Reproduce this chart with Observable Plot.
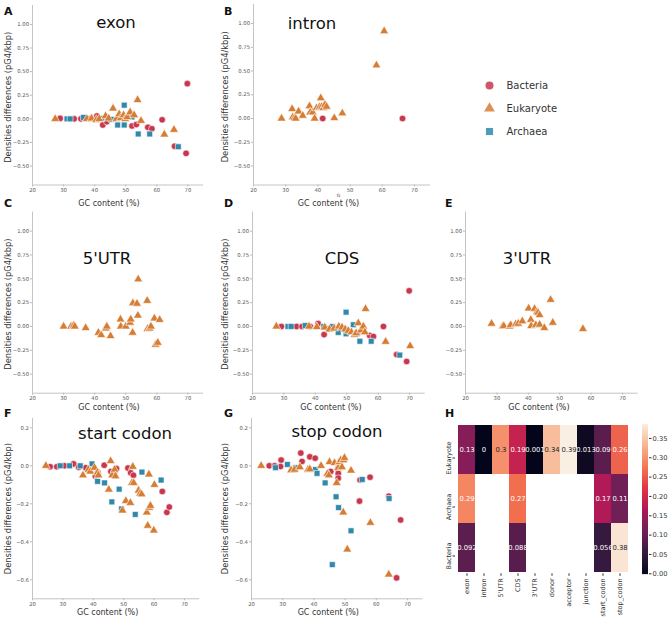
<!DOCTYPE html>
<html><head><meta charset="utf-8">
<script src="https://cdn.jsdelivr.net/npm/d3@7"></script>
<script src="https://cdn.jsdelivr.net/npm/@observablehq/plot@0.6"></script>
<style>
body{margin:0;background:#fff;}
#fig{position:relative;width:669px;height:620px;overflow:hidden;font-family:"DejaVu Sans",sans-serif;}
#fig > svg{position:absolute;}
</style></head><body><div id="fig"></div><script>
// ---------- data ----------
const groups = ["Bacteria", "Eukaryote", "Archaea"];
const groupColors = ["#c7374d", "#d67d33", "#3089ab"];
const groupSymbols = ["circle", "triangle", "square"];
const drawOrder = ["Bacteria", "Archaea", "Eukaryote"];

const xTicks = [20, 30, 40, 50, 60, 70];
const yTicksTop = [-0.5, -0.25, 0, 0.25, 0.5, 0.75, 1.0];
const yTicksBottom = [-0.6, -0.4, -0.2, 0, 0.2];
const xLabel = "GC content (%)";
const yLabel = "Densities differences (pG4/kbp)";

const exonBacteria = [[28.9,0.005],[33.4,0],[35.6,0],[38.2,0],[40.7,0.03],[42.6,-0.065],[43.9,-0.03],[49.5,0.025],[52.0,-0.075],[53.4,-0.06],[57.1,-0.09],[58.4,-0.105],[61.7,-0.01],[65.7,-0.29],[69.4,-0.365],[69.8,0.373]];
const exonEukaryote = [[27.3,0],[37.5,0],[39.0,0.005],[40.5,-0.01],[41.5,0],[43.5,0.03],[44.5,0.005],[45.9,0.11],[47.0,0.0],[47.9,0.05],[48.4,0.01],[49.3,0.04],[49.8,0.0],[50.5,0.02],[51.4,0.07],[52.7,0.04],[53.8,0.2],[54.9,-0.02],[62.4,-0.165],[65.5,-0.115]];
const exonArchaea = [[31.1,0],[32.1,0],[36.4,0.015],[42.3,0.005],[45.3,-0.005],[47.4,-0.065],[49.5,0.145],[49.5,-0.065],[52.0,0.02],[54.0,-0.16],[57.7,-0.16],[66.9,-0.295]];

const intronEukaryote = [[28.7,0],[32.0,0.10],[32.2,0.015],[32.7,0.005],[33.1,0],[34.0,0.075],[35.3,0.03],[37.4,0.13],[37.6,0.065],[38.4,0.065],[39.0,0],[39.6,0.11],[40.5,0.12],[40.9,0.215],[41.2,0.125],[41.7,0.11],[42.2,0.145],[42.7,0.125],[45.1,0.005],[47.6,0.055],[58.2,0.56],[60.6,0.92]];
const intronBacteria = [[41.5,0],[66.3,0]];

const utr5Eukaryote = [[30.0,0],[32.4,0],[33.2,0.01],[33.6,0],[37.1,-0.015],[41.2,-0.065],[42.1,-0.09],[43.6,-0.02],[43.9,0],[45.1,-0.10],[48.3,0.075],[48.4,0],[50.0,0],[51.4,0.04],[51.6,0.075],[52.2,-0.065],[52.3,0.245],[53.6,0.24],[54.0,0.495],[53.9,0.115],[56.9,0.27],[57.0,-0.025],[57.7,-0.02],[58.1,0],[59.2,0.085],[59.6,-0.19],[60.3,-0.17],[60.9,0.07]];

const cdsBacteria = [[29.2,0],[34.0,0],[35.8,0],[38.4,0],[40.9,0.03],[42.8,-0.085],[44.3,-0.025],[49.1,-0.02],[53.4,-0.075],[57.3,-0.095],[58.5,-0.105],[61.7,0],[65.9,-0.295],[69.1,-0.367],[69.9,0.374]];
const cdsEukaryote = [[27.6,0],[38.0,0],[40.5,-0.005],[43.0,-0.01],[44.5,-0.03],[46.0,-0.02],[47.5,0],[48.5,-0.01],[49.5,-0.03],[50.5,-0.045],[51.5,-0.06],[52.5,-0.085],[53.0,-0.07],[53.7,0.035],[54.5,-0.04],[55.3,0.0],[55.8,-0.06],[56.0,0.185],[62.4,-0.16],[70.2,-0.205]];
const cdsArchaea = [[31.3,0],[32.3,0],[36.8,0.01],[42.7,0],[45.5,0],[47.3,-0.063],[49.8,0.15],[49.8,-0.077],[52.1,0.018],[54.2,-0.155],[57.8,-0.155],[66.9,-0.3]];

const utr3Eukaryote = [[28.3,0.03],[31.8,0],[32.2,0.005],[34.0,0],[34.4,0.015],[36.0,0.025],[36.8,0.03],[38.1,0.055],[40.1,0.19],[40.8,0.07],[40.9,0.005],[42.0,0.185],[42.4,0.015],[42.8,0.155],[43.1,0.145],[43.6,0.12],[43.6,0.02],[45.1,-0.015],[47.1,0.28],[47.8,0.04],[57.4,-0.025]];

const startBacteria = [[25.8,-0.005],[28.0,-0.005],[30.5,0],[33.5,0.01],[35.2,-0.007],[37.5,-0.01],[40.7,-0.055],[41.5,-0.035],[43.6,0.003],[45.8,-0.03],[46.9,-0.035],[47.6,-0.015],[51.4,-0.012],[52.3,-0.037],[53.2,-0.05],[62.7,-0.135],[64.2,-0.245],[65.0,-0.217]];
const startEukaryote = [[24.4,0],[36.6,-0.05],[38.4,-0.02],[39.0,-0.03],[40.4,-0.01],[41.4,-0.035],[41.7,-0.05],[45.1,-0.125],[45.7,0.025],[46.2,-0.05],[47.0,-0.02],[47.3,-0.055],[49.6,-0.235],[50.7,-0.185],[52.2,-0.195],[52.7,-0.09],[53.0,-0.005],[53.3,-0.09],[54.9,-0.13],[55.4,-0.145],[55.9,-0.15],[57.6,-0.245],[57.9,-0.315],[58.3,-0.045],[58.4,-0.22],[58.8,-0.21],[59.9,-0.34],[60.1,-0.1]];
const startArchaea = [[29.1,0],[32.2,0],[35.7,0],[39.6,0.01],[41.4,-0.082],[43.7,-0.09],[46.1,-0.19],[48.5,-0.123],[49.3,-0.227],[53.8,-0.256],[56.0,-0.033],[62.3,-0.075]];

const stopBacteria = [[25.7,0],[27.4,0],[29.5,0.03],[29.3,-0.004],[35.8,0.067],[36.2,0.023],[38.7,0.047],[40.4,0.04],[45.4,-0.03],[47.7,-0.016],[47.8,-0.04],[47.8,-0.065],[54.6,-0.186],[54.8,-0.075],[58.0,-0.06],[64.0,-0.16],[67.8,-0.285],[66.5,-0.59]];
const stopEukaryote = [[23.1,0],[32.7,-0.023],[33.8,-0.02],[35.5,-0.007],[38.1,-0.02],[38.7,-0.018],[42.3,0],[44.3,-0.042],[44.8,-0.05],[45.0,0.02],[46.6,0.015],[47.3,-0.09],[47.8,-0.01],[48.1,0.02],[48.6,0.03],[49.0,-0.007],[49.5,0.03],[49.8,0.042],[49.4,-0.245],[50.7,-0.44],[51.9,-0.025],[58.1,-0.30],[64.0,-0.572]];
const stopArchaea = [[27.7,-0.01],[31.5,0.007],[34.1,-0.01],[40.5,-0.02],[41.0,-0.04],[43.6,-0.09],[47.1,-0.163],[47.9,-0.22],[51.9,-0.342],[45.9,-0.52],[55.5,-0.072],[64.1,-0.172]];

// heatmap
const regions = ["exon", "intron", "5'UTR", "CDS", "3'UTR", "donor", "acceptor", "junction", "start_codon", "stop_codon"];
const kingdoms = ["Eukaryote", "Archaea", "Bacteria"];
const heatEukaryote = [0.13, 0, 0.3, 0.19, 0.001, 0.34, 0.39, 0.013, 0.09, 0.26];
const heatArchaea = [0.29, null, null, 0.27, null, null, null, null, 0.17, 0.11];
const heatBacteria = [0.092, null, null, 0.088, null, null, null, null, 0.056, 0.38];
const heatMax = 0.386;
const colorbarTicks = [0, 0.05, 0.1, 0.15, 0.2, 0.25, 0.3, 0.35];
const rocket = ["#03051a", "#35193e", "#701f57", "#ad1759", "#e13342", "#f37651", "#f6b48f", "#faebdd"];

// ---------- layout ----------
const fig = document.getElementById("fig");
function place(el, left, top) {
  el.style.left = left + "px"; el.style.top = top + "px";
  el.style.position = "absolute";
  fig.appendChild(el);
}
const FONT = "DejaVu Sans";
const xDomain = [20, 75];
const yDomainTop = [-0.7, 1.2];
const yDomainBottom = [-0.7, 0.25];

function toRows(series) {
  return drawOrder.flatMap(g => (series[g] || []).map(([gc, diff]) => ({g, gc, diff})));
}

function scatter(c) {
  const data = toRows(c.series);
  const marks = [
    Plot.ruleX([xDomain[0]], {stroke: "#c4c4c4", strokeWidth: 1}),
    Plot.ruleY([c.yDomain[0]], {stroke: "#c4c4c4", strokeWidth: 1}),
    Plot.axisX({ticks: xTicks, fontSize: 5.3, tickSize: 2, tickPadding: 1.5, stroke: "#bbb", fill: "#555", label: null}),
    Plot.axisY({ticks: c.yTicks, tickFormat: c.yFormat, fontSize: 5.3, tickSize: 2, tickPadding: 1.5, stroke: "#bbb", fill: "#555", label: null}),
    Plot.dot(data, {x: "gc", y: "diff", symbol: "g", fill: "g", stroke: "white", strokeWidth: 0.6, r: 3.3}),
    Plot.text([xLabel], {text: d => d, frameAnchor: "bottom", textAnchor: "middle", dy: c.xlDy, dx: c.xlDx, fontSize: 8, fill: "#333"})
  ];
  if (c.ylabel) marks.push(Plot.text([yLabel], {text: d => d, frameAnchor: "left", textAnchor: "middle", rotate: -90, dx: c.ylX - c.fx0, dy: c.ylDy, fontSize: 8.3, fill: "#333"}));
  if (c.extra) marks.push(c.extra);
  const p = Plot.plot({
    width: c.w, height: c.h,
    marginLeft: c.fx0, marginRight: c.w - c.fx1, marginTop: c.fy0, marginBottom: c.h - c.fy1,
    style: {fontFamily: FONT, background: "none", overflow: "visible"},
    x: {domain: xDomain, label: null, axis: null},
    y: {domain: c.yDomain, label: null, axis: null},
    color: {domain: groups, range: groupColors},
    symbol: {domain: groups, range: groupSymbols},
    marks
  });
  place(p, c.left, c.top);
}

// Row 1
scatter({left: 0, top: 0, w: 220, h: 212, fx0: 32, fx1: 203, fy0: 5, fy1: 184.5, yDomain: yDomainTop, yTicks: yTicksTop, yFormat: ".2f",
  series: {Bacteria: exonBacteria, Eukaryote: exonEukaryote, Archaea: exonArchaea}, ylabel: true, ylX: 7.5, ylDy: 2, xlDy: 20.5, xlDx: -9});
scatter({left: 220, top: 0, w: 220, h: 212, fx0: 33, fx1: 210, fy0: 4, fy1: 184.5, yDomain: yDomainTop, yTicks: yTicksTop, yFormat: ".2f",
  series: {Bacteria: intronBacteria, Eukaryote: intronEukaryote}, ylabel: true, ylX: 5, ylDy: 2, xlDy: 20.5, xlDx: -13.5,
  extra: Plot.text(["G"], {text: d => d, frameAnchor: "bottom", textAnchor: "middle", dy: 12, dx: -3.5, fontSize: 4.5, fill: "#555"})});
// Row 2
scatter({left: 0, top: 200, w: 220, h: 215, fx0: 32, fx1: 203, fy0: 11.6, fy1: 192.7, yDomain: yDomainTop, yTicks: yTicksTop, yFormat: ".2f",
  series: {Eukaryote: utr5Eukaryote}, ylabel: true, ylX: 7.5, ylDy: 1.5, xlDy: 16.3, xlDx: -9});
scatter({left: 220, top: 200, w: 220, h: 215, fx0: 32, fx1: 204.7, fy0: 11.6, fy1: 192.7, yDomain: yDomainTop, yTicks: yTicksTop, yFormat: ".2f",
  series: {Bacteria: cdsBacteria, Eukaryote: cdsEukaryote, Archaea: cdsArchaea}, ylabel: true, ylX: 5, ylDy: 1.5, xlDy: 16.3, xlDx: -8});
scatter({left: 440, top: 200, w: 229, h: 215, fx0: 25, fx1: 197.7, fy0: 11.6, fy1: 192.7, yDomain: yDomainTop, yTicks: yTicksTop, yFormat: ".2f",
  series: {Eukaryote: utr3Eukaryote}, ylabel: false, xlDy: 16.3, xlDx: -13});
// Row 3
scatter({left: 0, top: 410, w: 220, h: 210, fx0: 32, fx1: 199.2, fy0: 7.8, fy1: 188.3, yDomain: yDomainBottom, yTicks: yTicksBottom, yFormat: ".1f",
  series: {Bacteria: startBacteria, Eukaryote: startEukaryote, Archaea: startArchaea}, ylabel: true, ylX: 7.5, ylDy: 0, xlDy: 15.7, xlDx: -8.5});
scatter({left: 220, top: 410, w: 220, h: 210, fx0: 31, fx1: 202.6, fy0: 7.8, fy1: 188.3, yDomain: yDomainBottom, yTicks: yTicksBottom, yFormat: ".1f",
  series: {Bacteria: stopBacteria, Eukaryote: stopEukaryote, Archaea: stopArchaea}, ylabel: true, ylX: 5, ylDy: 0, xlDy: 15.7, xlDx: -9});

// Heatmap
const heatValues = {Eukaryote: heatEukaryote, Archaea: heatArchaea, Bacteria: heatBacteria};
const heatRows = kingdoms.flatMap(k => regions.map((r, j) => ({k, r, v: heatValues[k][j]}))).filter(d => d.v != null);
const colorScale = {type: "linear", domain: rocket.map((_, i) => i / (rocket.length - 1) * heatMax), range: rocket, interpolate: "rgb"};
const fmt = d3.format(".2~g");
const heat = Plot.plot({
  width: 191, height: 210, marginLeft: 15, marginRight: 0, marginTop: 14, marginBottom: 46.7,
  style: {fontFamily: FONT, background: "none", overflow: "visible"},
  x: {domain: regions, padding: 0, label: null, axis: null},
  y: {domain: kingdoms, padding: 0, label: null, axis: null},
  color: colorScale,
  marks: [
    Plot.cell(heatRows, {x: "r", y: "k", fill: "v", inset: 0}),
    Plot.text(heatRows.filter(d => d.v < 0.3), {x: "r", y: "k", text: d => fmt(d.v), fill: "white", fontSize: 6.8}),
    Plot.text(heatRows.filter(d => d.v >= 0.3), {x: "r", y: "k", text: d => fmt(d.v), fill: "#262626", fontSize: 6.8}),
    Plot.axisX({tickRotate: -90, fontSize: 6.5, tickSize: 2.5, tickPadding: 2, label: null, fill: "#333", stroke: "#333"}),
    Plot.axisY({tickRotate: -90, fontSize: 6.5, tickSize: 2.5, tickPadding: 2, label: null, fill: "#333", stroke: "#333", dy: 8})
  ]
});
place(heat, 440, 410);

// Colorbar
const cbStep = 0.0005;
const cbValues = d3.range(0, heatMax, cbStep);
const cbar = Plot.plot({
  width: 34, height: 210, marginLeft: 7, marginRight: 21, marginTop: 14, marginBottom: 46.7,
  style: {fontFamily: FONT, background: "none", overflow: "visible"},
  y: {domain: [0, heatMax], label: null, axis: null},
  color: colorScale,
  marks: [
    Plot.ruleY(cbValues, {y: d => d + cbStep / 2, stroke: d => d, strokeWidth: 0.6}),
    Plot.axisY({anchor: "right", ticks: colorbarTicks, tickFormat: ".2f", fontSize: 6.7, tickSize: 2.5, tickPadding: 1.5, label: null, fill: "#333", stroke: "#333"})
  ]
});
place(cbar, 635, 410);

// Legend
const legend = Plot.plot({
  width: 120, height: 55, marginTop: 4, marginBottom: 4, marginLeft: 0, marginRight: 0,
  style: {fontFamily: FONT, background: "none", overflow: "visible"},
  y: {domain: groups, padding: 0, axis: null},
  color: {domain: groups, range: groupColors},
  symbol: {domain: groups, range: groupSymbols},
  marks: [
    Plot.dot(groups, {y: d => d, frameAnchor: "left", dx: 19, symbol: d => d, fill: d => d, r: 4, fillOpacity: 0.85}),
    Plot.text(groups, {y: d => d, text: d => d, frameAnchor: "left", dx: 36, textAnchor: "start", fontSize: 10, fill: "#333"})
  ]
});
place(legend, 470, 80);

// Panel letters and titles
const letters = [["A",4,15],["B",224,15],["C",4,207],["D",224,207],["E",445,207],["F",4,417],["G",224,417],["H",445,417]];
const titles = [["exon",116,28],["intron",312,29],["5'UTR",107,264],["CDS",342,264],["3'UTR",527,264],["start codon",125,439],["stop codon",337,437]];
const over = d3.create("svg").attr("width", 669).attr("height", 620)
  .style("left", "0px").style("top", "0px").style("position", "absolute").style("font-family", FONT).style("pointer-events", "none");
over.selectAll("text.l").data(letters).join("text").attr("class", "l")
  .attr("x", d => d[1]).attr("y", d => d[2]).attr("font-size", 11).attr("font-weight", "bold").attr("fill", "#111").text(d => d[0]);
over.selectAll("text.t").data(titles).join("text").attr("class", "t")
  .attr("x", d => d[1]).attr("y", d => d[2]).attr("font-size", 16.5).attr("text-anchor", "middle").attr("fill", "#111").text(d => d[0]);
fig.appendChild(over.node());
</script></body></html>
